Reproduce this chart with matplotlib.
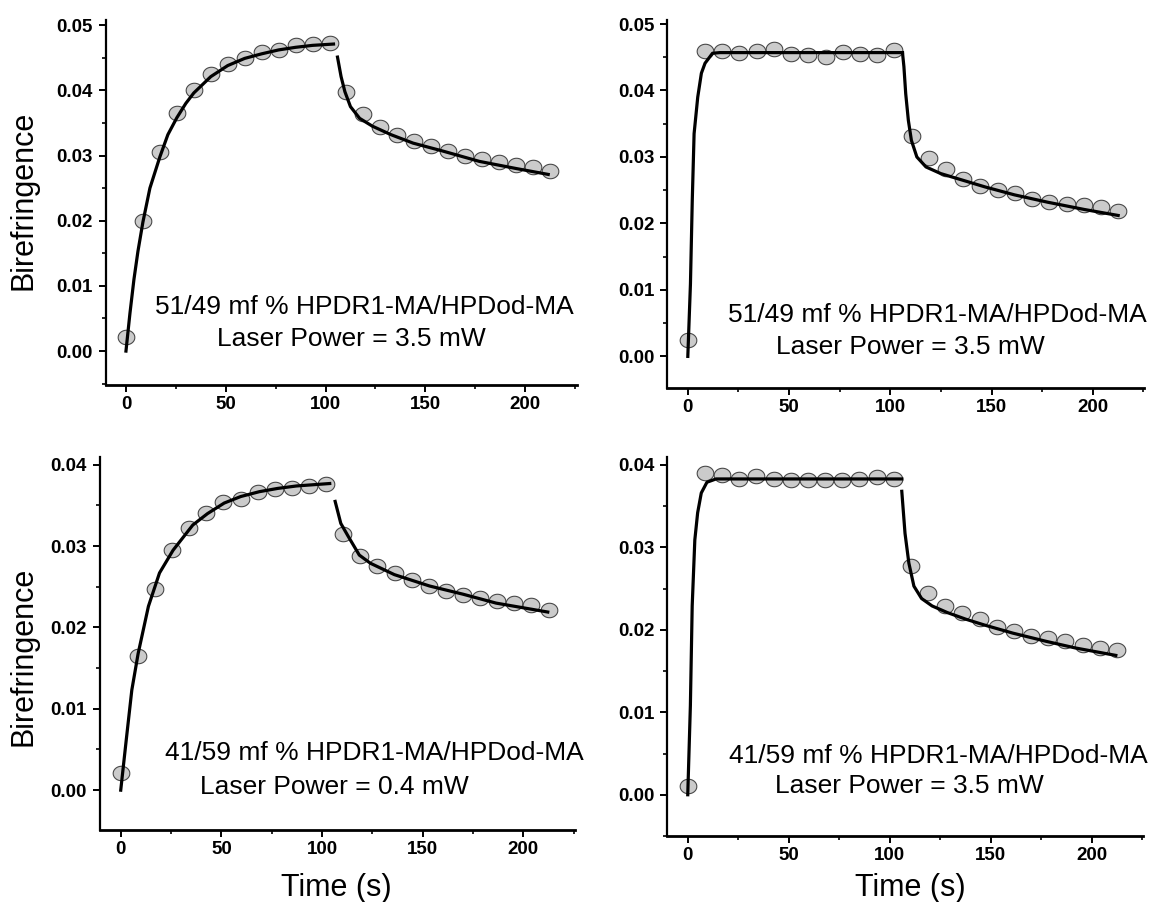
import numpy as np
import matplotlib.pyplot as plt
from matplotlib.path import Path
from matplotlib.ticker import MultipleLocator

plt.rcParams['font.family'] = ['Liberation Sans', 'DejaVu Sans']

# measured points (time in s, birefringence)
t_pts = [0, 8.5, 17, 25.5, 34, 42.5, 51, 59.5, 68, 76.5, 85, 93.5, 102,
         110.5, 119, 127.5, 136, 144.5, 153, 161.5, 170, 178.5, 187, 195.5, 204, 212.5]

y_tl = [0.0022, 0.0200, 0.0305, 0.0365, 0.0400, 0.0425, 0.0440, 0.0450, 0.0459, 0.0462, 0.0469, 0.0471, 0.0472,
        0.0398, 0.0363, 0.0343, 0.0332, 0.0322, 0.0314, 0.0307, 0.0300, 0.0295, 0.0290, 0.0286, 0.0282, 0.0276]
y_tr = [0.0025, 0.0460, 0.0460, 0.0456, 0.0460, 0.0463, 0.0455, 0.0453, 0.0451, 0.0458, 0.0455, 0.0453, 0.0461,
        0.0331, 0.0299, 0.0282, 0.0267, 0.0257, 0.0251, 0.0246, 0.0237, 0.0233, 0.0230, 0.0228, 0.0224, 0.0219]
y_bl = [0.0021, 0.0165, 0.0247, 0.0295, 0.0322, 0.0341, 0.0354, 0.0358, 0.0367, 0.0370, 0.0371, 0.0374, 0.0377,
        0.0315, 0.0288, 0.0276, 0.0267, 0.0258, 0.0251, 0.0245, 0.0240, 0.0236, 0.0232, 0.0230, 0.0228, 0.0222]
y_br = [0.0011, 0.0390, 0.0388, 0.0383, 0.0387, 0.0383, 0.0382, 0.0382, 0.0382, 0.0382, 0.0383, 0.0385, 0.0383,
        0.0277, 0.0245, 0.0229, 0.0220, 0.0213, 0.0204, 0.0198, 0.0193, 0.0190, 0.0186, 0.0182, 0.0178, 0.0175]

# fitted curves: writing (rise) and relaxation (decay)
fit_tl_rise_t = [0, 2, 4, 6, 8.5, 12, 17, 21, 25.5, 30, 34, 42.5, 51, 59.5, 68, 76.5, 85, 93.5, 104]
fit_tl_rise_y = [0.0, 0.0058, 0.0110, 0.0153, 0.0198, 0.0250, 0.0298, 0.0332, 0.0358, 0.0380, 0.0396,
                 0.0421, 0.0438, 0.0449, 0.0456, 0.0462, 0.0466, 0.0469, 0.0471]
fit_tl_decay_t = [106, 107.8, 109.7, 112.5, 117.1, 123.5, 132.8, 143.9, 158.6, 177.1, 195.6, 211.6]
fit_tl_decay_y = [0.0451, 0.0421, 0.0398, 0.0375, 0.0357, 0.0345, 0.0332, 0.0319, 0.0307, 0.0291, 0.0280, 0.0271]

fit_tr_rise_t = [0, 1.3, 2.2, 3.1, 4.9, 6.7, 8.5, 12.2, 15.8, 106]
fit_tr_rise_y = [0.0, 0.0109, 0.0235, 0.0335, 0.0390, 0.0426, 0.0441, 0.0456, 0.0457, 0.0457]
fit_tr_decay_t = [106, 106.7, 107.6, 108.9, 110.4, 113.1, 117.6, 124.9, 135.8, 146.7, 161.3, 177.6, 195.8, 212.5]
fit_tr_decay_y = [0.0457, 0.0436, 0.0395, 0.0355, 0.0325, 0.0300, 0.0285, 0.0275, 0.0265, 0.0255, 0.0243,
                  0.0232, 0.0221, 0.0212]

fit_bl_rise_t = [0, 2.75, 5.5, 8.65, 13.75, 19.25, 26.0, 35.8, 43.1, 51.4, 59.6, 68.9, 78.0, 87.3, 103.8]
fit_bl_rise_y = [0.0, 0.0062, 0.0123, 0.0168, 0.0226, 0.0267, 0.0295, 0.0326, 0.0340, 0.0353, 0.0361,
                 0.0367, 0.0371, 0.0374, 0.0377]
fit_bl_decay_t = [106.5, 109.3, 113.0, 118.5, 124.0, 135.9, 153.4, 169.9, 186.4, 212.1]
fit_bl_decay_y = [0.0355, 0.0328, 0.0312, 0.0289, 0.0279, 0.0265, 0.0251, 0.0241, 0.0230, 0.0219]

fit_br_rise_t = [0, 1.3, 2.2, 3.5, 4.9, 6.7, 9.5, 14, 106]
fit_br_rise_y = [0.0, 0.0108, 0.0229, 0.0309, 0.0342, 0.0366, 0.0379, 0.0383, 0.0383]
fit_br_decay_t = [106, 107.6, 109.5, 112, 115.8, 121, 128.5, 137.6, 146.7, 161, 177.6, 192, 212]
fit_br_decay_y = [0.0368, 0.0317, 0.0281, 0.0253, 0.0238, 0.0229, 0.0221, 0.0213, 0.0206, 0.0196,
                  0.0186, 0.0178, 0.0169]

line1 = ['51/49 mf % HPDR1-MA/HPDod-MA', '51/49 mf % HPDR1-MA/HPDod-MA',
         '41/59 mf % HPDR1-MA/HPDod-MA', '41/59 mf % HPDR1-MA/HPDod-MA']
line2 = ['Laser Power = 3.5 mW', 'Laser Power = 3.5 mW',
         'Laser Power = 0.4 mW', 'Laser Power = 3.5 mW']

panels = [
    (y_tl, fit_tl_rise_t, fit_tl_rise_y, fit_tl_decay_t, fit_tl_decay_y),
    (y_tr, fit_tr_rise_t, fit_tr_rise_y, fit_tr_decay_t, fit_tr_decay_y),
    (y_bl, fit_bl_rise_t, fit_bl_rise_y, fit_bl_decay_t, fit_bl_decay_y),
    (y_br, fit_br_rise_t, fit_br_rise_y, fit_br_decay_t, fit_br_decay_y),
]

# layout: axes rectangles, limits, text anchor positions (axes fraction)
rects = [[0.0917, 0.5732, 0.4074, 0.4047],
         [0.5773, 0.5695, 0.4124, 0.4083],
         [0.0865, 0.0798, 0.4112, 0.4139],
         [0.5773, 0.0732, 0.4117, 0.4205]]
xlims = [(-10.0, 226), (-10.1, 225.3), (-10.3, 225.8), (-10.1, 225.6)]
ylims = [(-0.0052, 0.0508), (-0.0048, 0.0506), (-0.0049, 0.0410), (-0.0050, 0.0410)]
txt1 = [(0.104, 0.213), (0.127, 0.198), (0.136, 0.205), (0.130, 0.212)]
txt2 = [(0.236, 0.126), (0.228, 0.111), (0.210, 0.116), (0.226, 0.133)]

# the scanned markers are slightly wider than tall
theta = np.linspace(0, 2 * np.pi, 41)
oval = Path(np.column_stack([1.15 * np.cos(theta), np.sin(theta)]))

fig = plt.figure(figsize=(11.56, 9.02), dpi=100)

for i, (y, rt, ry, dt, dy) in enumerate(panels):
    ax = fig.add_axes(rects[i])
    ax.plot(t_pts, y, linestyle='none', marker=oval, ms=12, mfc='#cbcbcb', mec='#4a4a4a', mew=0.8, zorder=2)
    ax.plot(rt, ry, '-', color='black', lw=2.3, zorder=3)
    ax.plot(dt, dy, '-', color='black', lw=2.3, zorder=3)

    ax.set_xlim(*xlims[i])
    ax.set_ylim(*ylims[i])
    ax.xaxis.set_major_locator(MultipleLocator(50))
    ax.xaxis.set_minor_locator(MultipleLocator(25))
    ax.yaxis.set_major_locator(MultipleLocator(0.01))
    ax.yaxis.set_minor_locator(MultipleLocator(0.005))
    ax.yaxis.set_major_formatter(plt.FormatStrFormatter('%.2f'))

    ax.spines['top'].set_visible(False)
    ax.spines['right'].set_visible(False)
    ax.spines['left'].set_linewidth(1.6)
    ax.spines['bottom'].set_linewidth(2.0)
    ax.tick_params(which='major', direction='out', length=5, width=1.4, labelsize=13.5)
    ax.tick_params(axis='x', which='major', pad=3)
    ax.tick_params(axis='y', which='major', pad=4.5)
    ax.tick_params(which='minor', direction='out', length=3, width=1.2)
    for lab in ax.get_xticklabels() + ax.get_yticklabels():
        lab.set_fontweight('bold')

    ax.text(txt1[i][0], txt1[i][1], line1[i], transform=ax.transAxes,
            fontsize=19, ha='left', va='center')
    ax.text(txt2[i][0], txt2[i][1], line2[i], transform=ax.transAxes,
            fontsize=19, ha='left', va='center')

fig.text(24 / 1156, 1 - 200 / 902, 'Birefringence', rotation=90, ha='center', va='center', fontsize=22)
fig.text(24 / 1156, 1 - 656 / 902, 'Birefringence', rotation=90, ha='center', va='center', fontsize=22)
fig.text(336 / 1156, 1 - 888 / 902, 'Time (s)', ha='center', va='center', fontsize=22)
fig.text(910 / 1156, 1 - 888 / 902, 'Time (s)', ha='center', va='center', fontsize=22)

fig.savefig('out.png', dpi=100)
